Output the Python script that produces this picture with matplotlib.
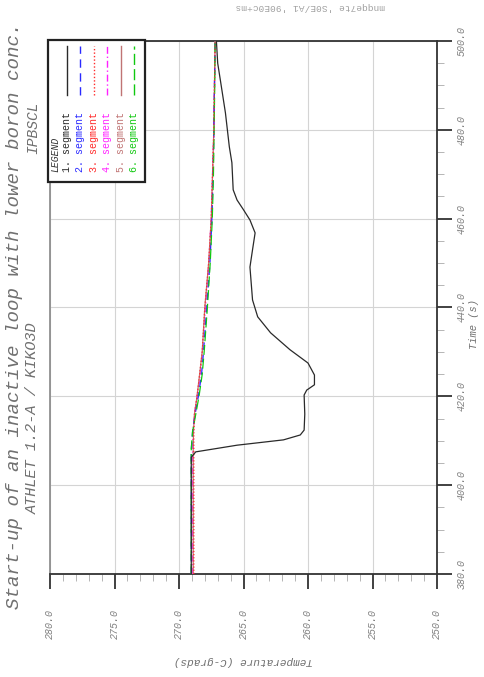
import numpy as np
import matplotlib
matplotlib.use("Agg")
import matplotlib.pyplot as plt
from matplotlib.lines import Line2D
from matplotlib.patches import Rectangle
from matplotlib.ticker import MultipleLocator, FormatStrFormatter

# --- data: time (s) vs. coolant temperature (C) per loop segment ---
t_seg1 = [380, 406.3, 407.5, 409.0, 410.2, 411.3, 412.4, 416.0, 420.3, 421.4,
          422.6, 424.8, 427.5, 430.5, 434.3, 437.9, 441.7, 449.1, 453.0, 456.8,
          459.7, 462.0, 464.2, 466.5, 472.6, 476.2, 483.8, 491.3, 495.0, 500]
T_seg1 = [269.05, 269.05, 268.7, 265.5, 261.9, 260.6, 260.3, 260.25, 260.3, 260.1,
          259.5, 259.5, 260.0, 261.4, 262.9, 263.9, 264.3, 264.5, 264.3, 264.1,
          264.5, 265.0, 265.5, 265.8, 265.9, 266.1, 266.4, 266.8, 267.0, 267.1]

t_seg = [380, 408, 412, 416, 420, 425, 430, 440, 450, 460, 470, 480, 490, 500]
T_seg2 = [269.05, 269.05, 268.95, 268.75, 268.5, 268.25, 268.1, 267.85, 267.6, 267.45, 267.35, 267.3, 267.25, 267.2]
T_seg3 = [268.85, 268.85, 268.85, 268.8, 268.6, 268.4, 268.2, 268.0, 267.7, 267.5, 267.4, 267.3, 267.25, 267.2]
T_seg4 = [268.95, 268.95, 268.92, 268.8, 268.6, 268.35, 268.2, 267.95, 267.7, 267.5, 267.4, 267.3, 267.25, 267.2]
T_seg5 = [268.9, 268.9, 268.88, 268.8, 268.6, 268.4, 268.2, 268.0, 267.7, 267.5, 267.4, 267.3, 267.25, 267.2]
T_seg6 = [269.05, 269.05, 268.95, 268.7, 268.45, 268.2, 268.05, 267.8, 267.58, 267.42, 267.33, 267.28, 267.23, 267.2]

labels = ["1. segment", "2. segment", "3. segment", "4. segment", "5. segment", "6. segment"]
colors = ["#2a2a2a", "#2a2aff", "#ff2a2a", "#ff22ff", "#c07474", "#10c810"]
styles = ["-", (0, (6, 4)), (0, (1, 1.5)), (0, (5, 2, 1, 2)), "-", (0, (8, 3))]

W, H = 484, 677
fig = plt.figure(figsize=(W / 100, H / 100), dpi=100)


def fx(px):
    return px / W


def fy(py):
    return 1 - py / H


# axes box in pixels: x 50..437, y 41..574
ax = fig.add_axes([fx(50), fy(574), fx(437) - fx(50), fy(41) - fy(574)])

# plot is drawn turned on its side: temperature runs along x, time along y
series = [(t_seg1, T_seg1), (t_seg, T_seg2), (t_seg, T_seg3),
          (t_seg, T_seg4), (t_seg, T_seg5), (t_seg, T_seg6)]
order = [3, 4, 1, 5, 2, 0]
for i in order:
    tt, TT = series[i]
    ax.plot(TT, tt, color=colors[i], linestyle=styles[i], lw=0.9, zorder=3)

ax.set_xlim(280, 250)
ax.set_ylim(380, 500)
ax.xaxis.set_major_locator(MultipleLocator(5))
ax.xaxis.set_minor_locator(MultipleLocator(1))
ax.yaxis.set_major_locator(MultipleLocator(20))
ax.yaxis.set_minor_locator(MultipleLocator(5))
ax.xaxis.set_major_formatter(FormatStrFormatter("%.1f"))
ax.yaxis.set_major_formatter(FormatStrFormatter("%.1f"))
ax.yaxis.tick_right()
ax.grid(True, which="major", color="#d4d4d4", lw=0.8)

ax.tick_params(axis="x", which="major", length=11, width=1.3, color="#333333",
               pad=14, labelsize=7.2, labelrotation=90, labelcolor="#808080")
ax.tick_params(axis="y", which="major", length=11, width=1.3, color="#333333",
               pad=3, labelsize=7.2, labelrotation=90, labelcolor="#808080")
ax.tick_params(which="minor", length=5, width=0.6, color="#aaaaaa")
for lab in ax.get_xticklabels():
    lab.set_fontfamily("Liberation Mono")
    lab.set_fontstyle("italic")
    lab.set_va("top")
for lab in ax.get_yticklabels():
    lab.set_fontfamily("Liberation Mono")
    lab.set_fontstyle("italic")
    lab.set_va("center")

ax.spines["left"].set_color("#888888")
ax.spines["left"].set_linewidth(1.2)
for s in ["top", "right", "bottom"]:
    ax.spines[s].set_color("#333333")
    ax.spines[s].set_linewidth(1.3)

# titles
mono = "Liberation Mono"
fig.text(fx(15), fy(316), "Start-up of an inactive loop with lower boron conc.",
         rotation=90, ha="center", va="center", fontsize=13.8, family=mono,
         style="italic", color="#707070")
fig.text(fx(33), fy(418), "ATHLET 1.2-A / KIKO3D", rotation=90, ha="center",
         va="center", fontsize=11, family=mono, style="italic", color="#707070")
fig.text(fx(33), fy(128), "IPBSCL", rotation=90, ha="center", va="center",
         fontsize=10.5, family=mono, style="italic", color="#707070")

# axis labels
fig.text(fx(243), fy(661), "Temperature (C-grads)", rotation=180, ha="center",
         va="center", fontsize=8, family=mono, style="italic", color="#707070")
fig.text(fx(474), fy(324), "Time (s)", rotation=90, ha="center", va="center",
         fontsize=7.5, family=mono, style="italic", color="#707070")
fig.text(fx(310), fy(6), "mnqqe7te 'S0E/A1 '90E0c+ms", rotation=180, ha="center",
         va="center", fontsize=6.8, family=mono, color="#a0a0a0")

# legend box
fig.add_artist(Rectangle((fx(48), fy(182)), fx(145) - fx(48), fy(40) - fy(182),
                         transform=fig.transFigure, facecolor="white",
                         edgecolor="#222222", lw=1.6, zorder=5))
fig.text(fx(55), fy(172), "LEGEND", rotation=90, ha="center", va="bottom",
         fontsize=7, family=mono, style="italic", color="#333333", zorder=6)
for i, lab in enumerate(labels):
    x = 67 + 13.4 * i
    fig.text(fx(x), fy(172), lab, rotation=90, ha="center", va="bottom",
             fontsize=7.2, family=mono, color=colors[i], zorder=6)
    fig.add_artist(Line2D([fx(x), fx(x)], [fy(95), fy(46)], transform=fig.transFigure,
                          color=colors[i], linestyle=styles[i], lw=1.0, zorder=6))

fig.savefig("out.png", dpi=100)
